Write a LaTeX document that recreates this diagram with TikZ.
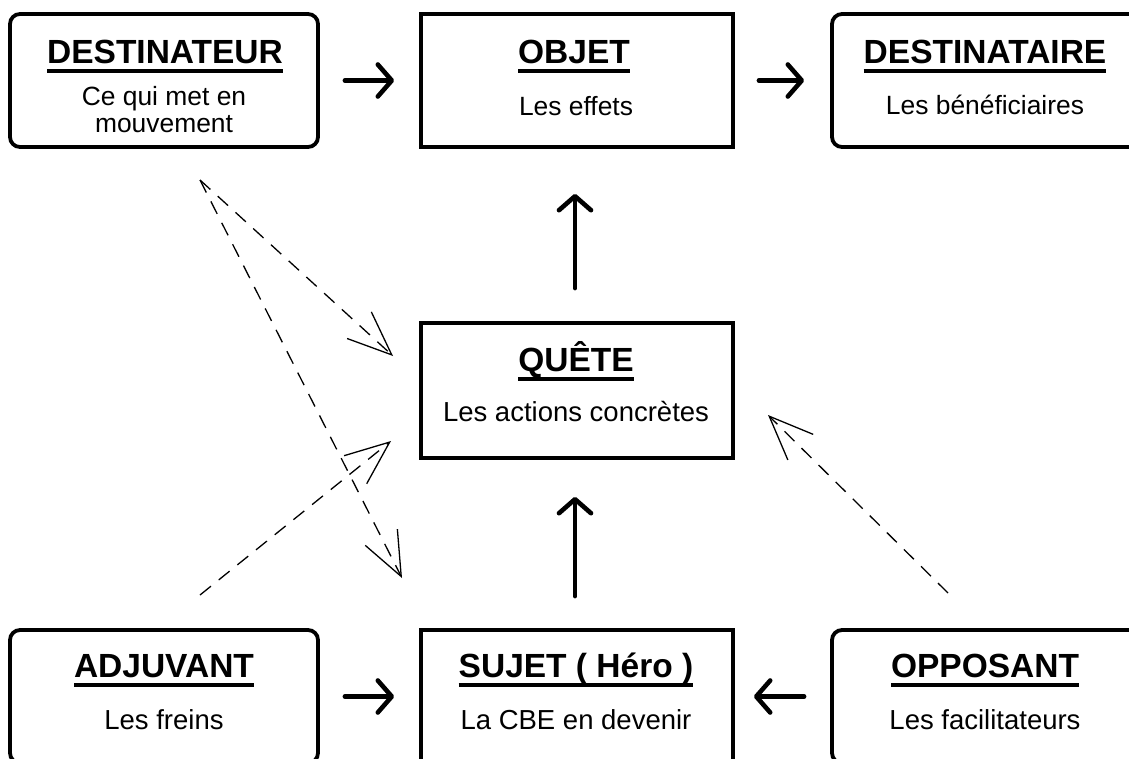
\documentclass[tikz,border=0pt]{standalone}
\usepackage{fontspec}
\setmainfont{Liberation Sans}
\usetikzlibrary{arrows.meta}
\newcommand\myttl[1]{\setbox0\hbox{\fontsize{33.5}{36}\selectfont\bfseries #1}\rlap{\rule[-10pt]{\wd0}{3.8pt}}\box0}
\begin{document}
\begin{tikzpicture}[x=1pt,y=-1pt,
  box/.style={draw, line width=3.8pt, inner sep=0pt, minimum width=312pt, minimum height=133pt},
  rbox/.style={box, minimum width=308pt, rounded corners=10pt},
  ttl/.style={anchor=base, inner sep=0pt},
  sub/.style={anchor=base, inner sep=0pt, font=\fontsize{27.5}{28}\selectfont},
  subs/.style={sub, font=\fontsize{26.4}{28}\selectfont},
  arr/.style={line width=4.6pt, line cap=round, -{Straight Barb[length=14pt,width=32pt,line width=4.6pt,round]}},
  darr/.style={line width=1.3pt, dash pattern=on 14pt off 10pt, -{Straight Barb[length=44pt,width=36pt,line width=1.3pt]}}
]
\useasboundingbox (0,0) rectangle (1129,758);
\clip (0,0) rectangle (1129,758);
\fill[white] (0,0) rectangle (1129,758);

% boxes
\node[rbox] (dest) at (164,80.5) {};
\node[box] (objet) at (577,80.5) {};
\node[rbox] (desta) at (986,80.5) {};
\node[box, minimum height=135pt] (quete) at (577,390.5) {};
\node[rbox] (adj) at (164,696.5) {};
\node[box] (sujet) at (577,696.5) {};
\node[rbox] (opp) at (986,696.5) {};

% texts
\node[ttl] (t1) at (165,63) {\myttl{DESTINATEUR}};
\node[subs] (s1) at (164,105) {Ce qui met en};
\node[subs] (s1b) at (164,132) {mouvement};
\node[ttl] (t2) at (574,63) {\myttl{OBJET}};
\node[subs] (s2) at (576,115) {Les effets};
\node[ttl] (t3) at (985,63) {\myttl{DESTINATAIRE}};
\node[subs] (s3) at (985,114) {Les bénéficiaires};
\node[ttl] (t4) at (576,371) {\myttl{QUÊTE}};
\node[sub] (s4) at (576,421) {Les actions concrètes};
\node[ttl] (t5) at (164,677) {\myttl{ADJUVANT}};
\node[sub] (s5) at (164,729) {Les freins};
\node[ttl] (t6) at (576,677) {\myttl{SUJET ( Héro )}};
\node[sub] (s6) at (576,729) {La CBE en devenir};
\node[ttl] (t7) at (985,677) {\myttl{OPPOSANT}};
\node[sub] (s7) at (985,729) {Les facilitateurs};

% solid arrows
\draw[arr, shorten <=25pt, shorten >=25pt] (dest.east) -- (objet.west);
\draw[arr, shorten <=24pt, shorten >=26pt] (objet.east) -- (desta.west);
\draw[arr, shorten <=33pt, shorten >=45pt] ([xshift=-2pt]quete.north) -- ([xshift=-2pt]quete.north |- objet.south);
\draw[arr, shorten <=32pt, shorten >=37pt] ([xshift=-2pt]sujet.north) -- ([xshift=-2pt]sujet.north |- quete.south);
\draw[arr, shorten <=25pt, shorten >=25pt] (adj.east) -- (sujet.west);
\draw[arr, shorten <=26pt, shorten >=19pt] (opp.west) -- (sujet.east);

% dashed arrows
\coordinate (d0) at (200,180);
\coordinate (d1) at (393,356);
\coordinate (d2) at (402,578);
\coordinate (a0) at (200,595);
\coordinate (a1) at (391,441);
\coordinate (o0) at (948,593);
\coordinate (o1) at (768,415);
\draw[darr] (d0) -- (d1);
\draw[darr] (d0) -- (d2);
\draw[darr] (a0) -- (a1);
\draw[darr] (o0) -- (o1);
\end{tikzpicture}
\end{document}
